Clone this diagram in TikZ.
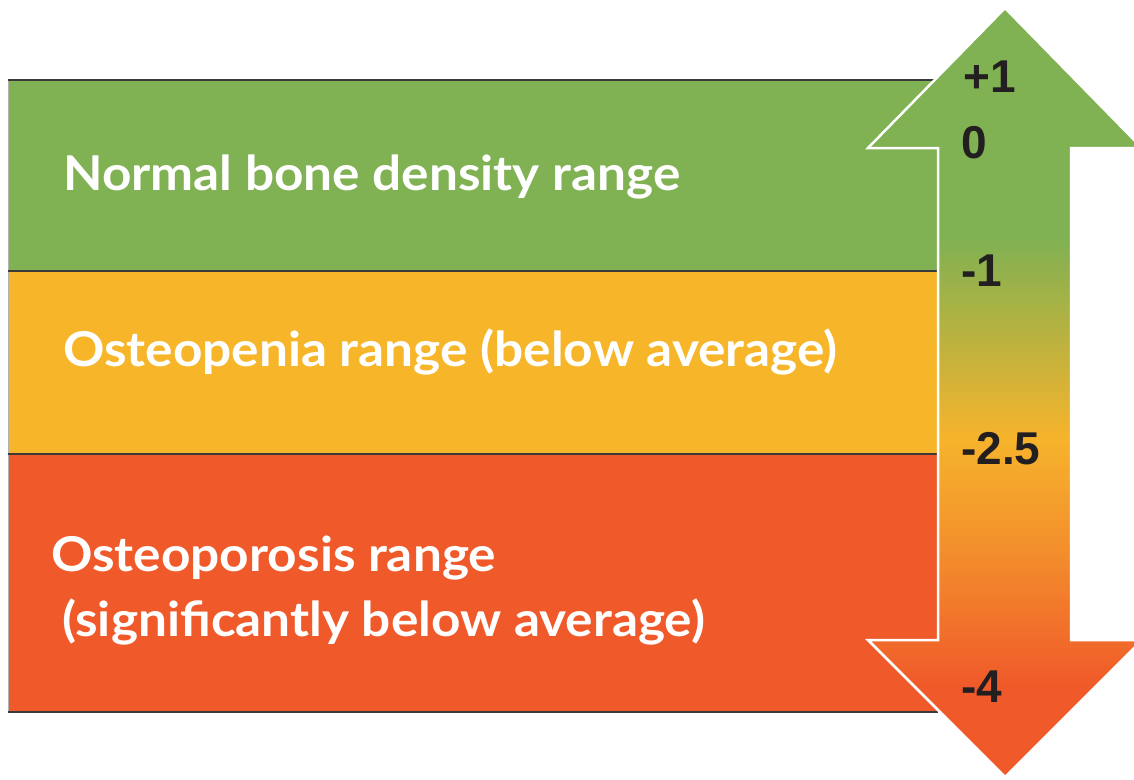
\documentclass[tikz,border=0pt]{standalone}
\usepackage{fontspec}
\setmainfont{Lato}
\newfontfamily\labelfont[FakeStretch=1.07]{Lato}
\newfontfamily\numfont{Liberation Sans}
\definecolor{bandgreen}{HTML}{80B152}
\definecolor{bandyellow}{HTML}{F7B52A}
\definecolor{bandred}{HTML}{F05A2A}
\definecolor{arrorange}{HTML}{F3902C}
\definecolor{arryellow}{HTML}{F6B32C}
\definecolor{numgray}{HTML}{231F20}
\definecolor{linegray}{HTML}{3A3A3A}
\pgfdeclareverticalshading{scaleshade}{100bp}{%
  color(0bp)=(bandred); color(31bp)=(bandred); color(40bp)=(arrorange);
  color(47bp)=(arryellow); color(60bp)=(bandgreen); color(100bp)=(bandgreen)}
\tikzset{
  bandlabel/.style={anchor=west, text=white, font=\labelfont\bfseries\fontsize{48}{56}\selectfont, inner sep=0pt},
  numlabel/.style={anchor=west, text=numgray, font=\numfont\bfseries\fontsize{46}{50}\selectfont, inner sep=0pt},
  bandline/.style={draw=linegray, line width=1.2pt},
}
\begin{document}
\begin{tikzpicture}[x=1pt,y=-1pt]
\useasboundingbox (0,0) rectangle (1134,779);
\clip (0,0) rectangle (1134,779);
% bands
\fill[bandgreen] (8,80) rectangle (938,271);
\fill[bandyellow] (8,271) rectangle (938,454);
\fill[bandred] (8,454) rectangle (938,712);
\draw[gray!60, line width=0.8pt] (8,80) -- (8,712);
\draw[bandline] (8,80) -- (938,80);
\draw[bandline] (8,271) -- (938,271);
\draw[bandline] (8,454) -- (938,454);
\draw[bandline] (8,712) -- (938,712);
% arrow
\shade[shading=scaleshade, draw=white, line width=2.5pt, line join=miter]
  (938,148) -- (868,148) -- (1005,8) -- (1142,148) -- (1071,148) -- (1071,640)
  -- (1142,640) -- (1005,777) -- (868,640) -- (938,640) -- cycle;
% labels
\node[bandlabel] (normal) at (63,177) {Normal bone density range};
\node[bandlabel] (penia) at (63,352) {Osteopenia range (below average)};
\node[bandlabel] (porosis) at (51,558) {Osteoporosis range};
\node[bandlabel] (porosisb) at (62,622) {(significantly below average)};
% scale numbers
\node[numlabel] (pone) at (963,77) {+1};
\node[numlabel] (zero) at (961,143) {0};
\node[numlabel] (mone) at (961,271) {-1};
\node[numlabel] (mtwo) at (961,449) {-2.5};
\node[numlabel] (mfour) at (961,687) {-4};
\end{tikzpicture}
\end{document}
